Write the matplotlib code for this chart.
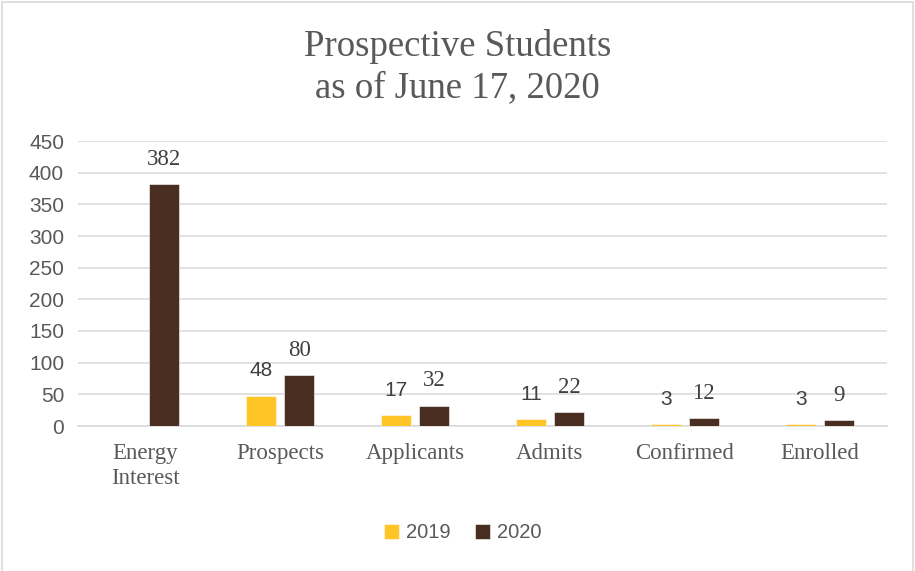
import matplotlib
matplotlib.use("Agg")
import matplotlib.pyplot as plt
import numpy as np
from matplotlib.patches import Rectangle

categories = ["Energy\nInterest", "Prospects", "Applicants", "Admits", "Confirmed", "Enrolled"]
values_2019 = [None, 48, 17, 11, 3, 3]
values_2020 = [382, 80, 32, 22, 12, 9]
series_names = ["2019", "2020"]
title_lines = ["Prospective Students", "as of June 17, 2020"]
yticks = [0, 50, 100, 150, 200, 250, 300, 350, 400, 450]

C19 = "#FFC425"
C20 = "#4B2E22"
TXT = "#595959"
GRID = "#D9D9D9"
SERIF = ["Liberation Serif", "DejaVu Serif"]
SANS = ["Liberation Sans", "DejaVu Sans"]

W, H = 915, 571
fig = plt.figure(figsize=(W / 100, H / 100), dpi=100)
fig.patch.set_facecolor("white")
fig.patches.append(Rectangle((1.5 / W, -0.01), (W - 4) / W, 1.01 - 2 / H,
                             transform=fig.transFigure, fill=False,
                             edgecolor=GRID, linewidth=1.2))

ax = fig.add_axes([78 / W, 1 - 426 / H, (887 - 78) / W, (426 - 141) / H])
x = np.arange(len(categories))
bw = 0.223
off = 0.141
v19 = np.array([np.nan if v is None else v for v in values_2019], dtype=float)
v20 = np.array(values_2020, dtype=float)
b19 = ax.bar(x - off, np.nan_to_num(v19), bw, color=C19, edgecolor="white",
             linewidth=0.4, label=series_names[0], zorder=3)
b20 = ax.bar(x + off, v20, bw, color=C20, edgecolor="white",
             linewidth=0.4, label=series_names[1], zorder=3)

for xi, v in zip(x, v19):
    if not np.isnan(v):
        ax.annotate(f"{int(v)}", (xi - off, v), xytext=(0, 18), textcoords="offset points",
                    ha="center", va="center", fontsize=15, family=SANS, color="#404040")
for xi, v in zip(x, v20):
    ax.annotate(f"{int(v)}", (xi + off, v), xytext=(0, 18), textcoords="offset points",
                ha="center", va="center", fontsize=16.5, family=SERIF, color="#404040")

ax.set_xlim(-0.5, len(categories) - 0.5)
ax.set_ylim(0, 450)
ax.set_yticks(yticks)
ax.set_yticklabels([str(t) for t in yticks], family=SANS, fontsize=15, color=TXT)
ax.set_xticks(x)
ax.set_xticklabels(categories, family=SERIF, fontsize=16.5, color=TXT, linespacing=1.25)
ax.tick_params(axis="both", length=0)
ax.tick_params(axis="x", pad=12)
ax.tick_params(axis="y", pad=10)
ax.yaxis.grid(True, color=GRID, linewidth=1.1, zorder=0)
ax.set_axisbelow(True)
for s in ["top", "right", "left"]:
    ax.spines[s].set_visible(False)
ax.spines["bottom"].set_color(GRID)
ax.spines["bottom"].set_linewidth(1.1)

fig.text(0.5, 1 - 47 / H, title_lines[0], ha="center", va="center",
         family=SERIF, fontsize=26.5, color=TXT)
fig.text(0.5, 1 - 88 / H, title_lines[1], ha="center", va="center",
         family=SERIF, fontsize=26.5, color=TXT)

leg = fig.legend(handles=[b19, b20], labels=series_names, loc="center",
                 bbox_to_anchor=(463 / W, 1 - 533 / H), ncol=2, frameon=False,
                 prop={"family": SANS, "size": 14.5}, handlelength=0.75, handleheight=0.75,
                 handletextpad=0.35, columnspacing=1.2)
for t in leg.get_texts():
    t.set_color(TXT)

fig.savefig("out.png", dpi=100, facecolor="white")
